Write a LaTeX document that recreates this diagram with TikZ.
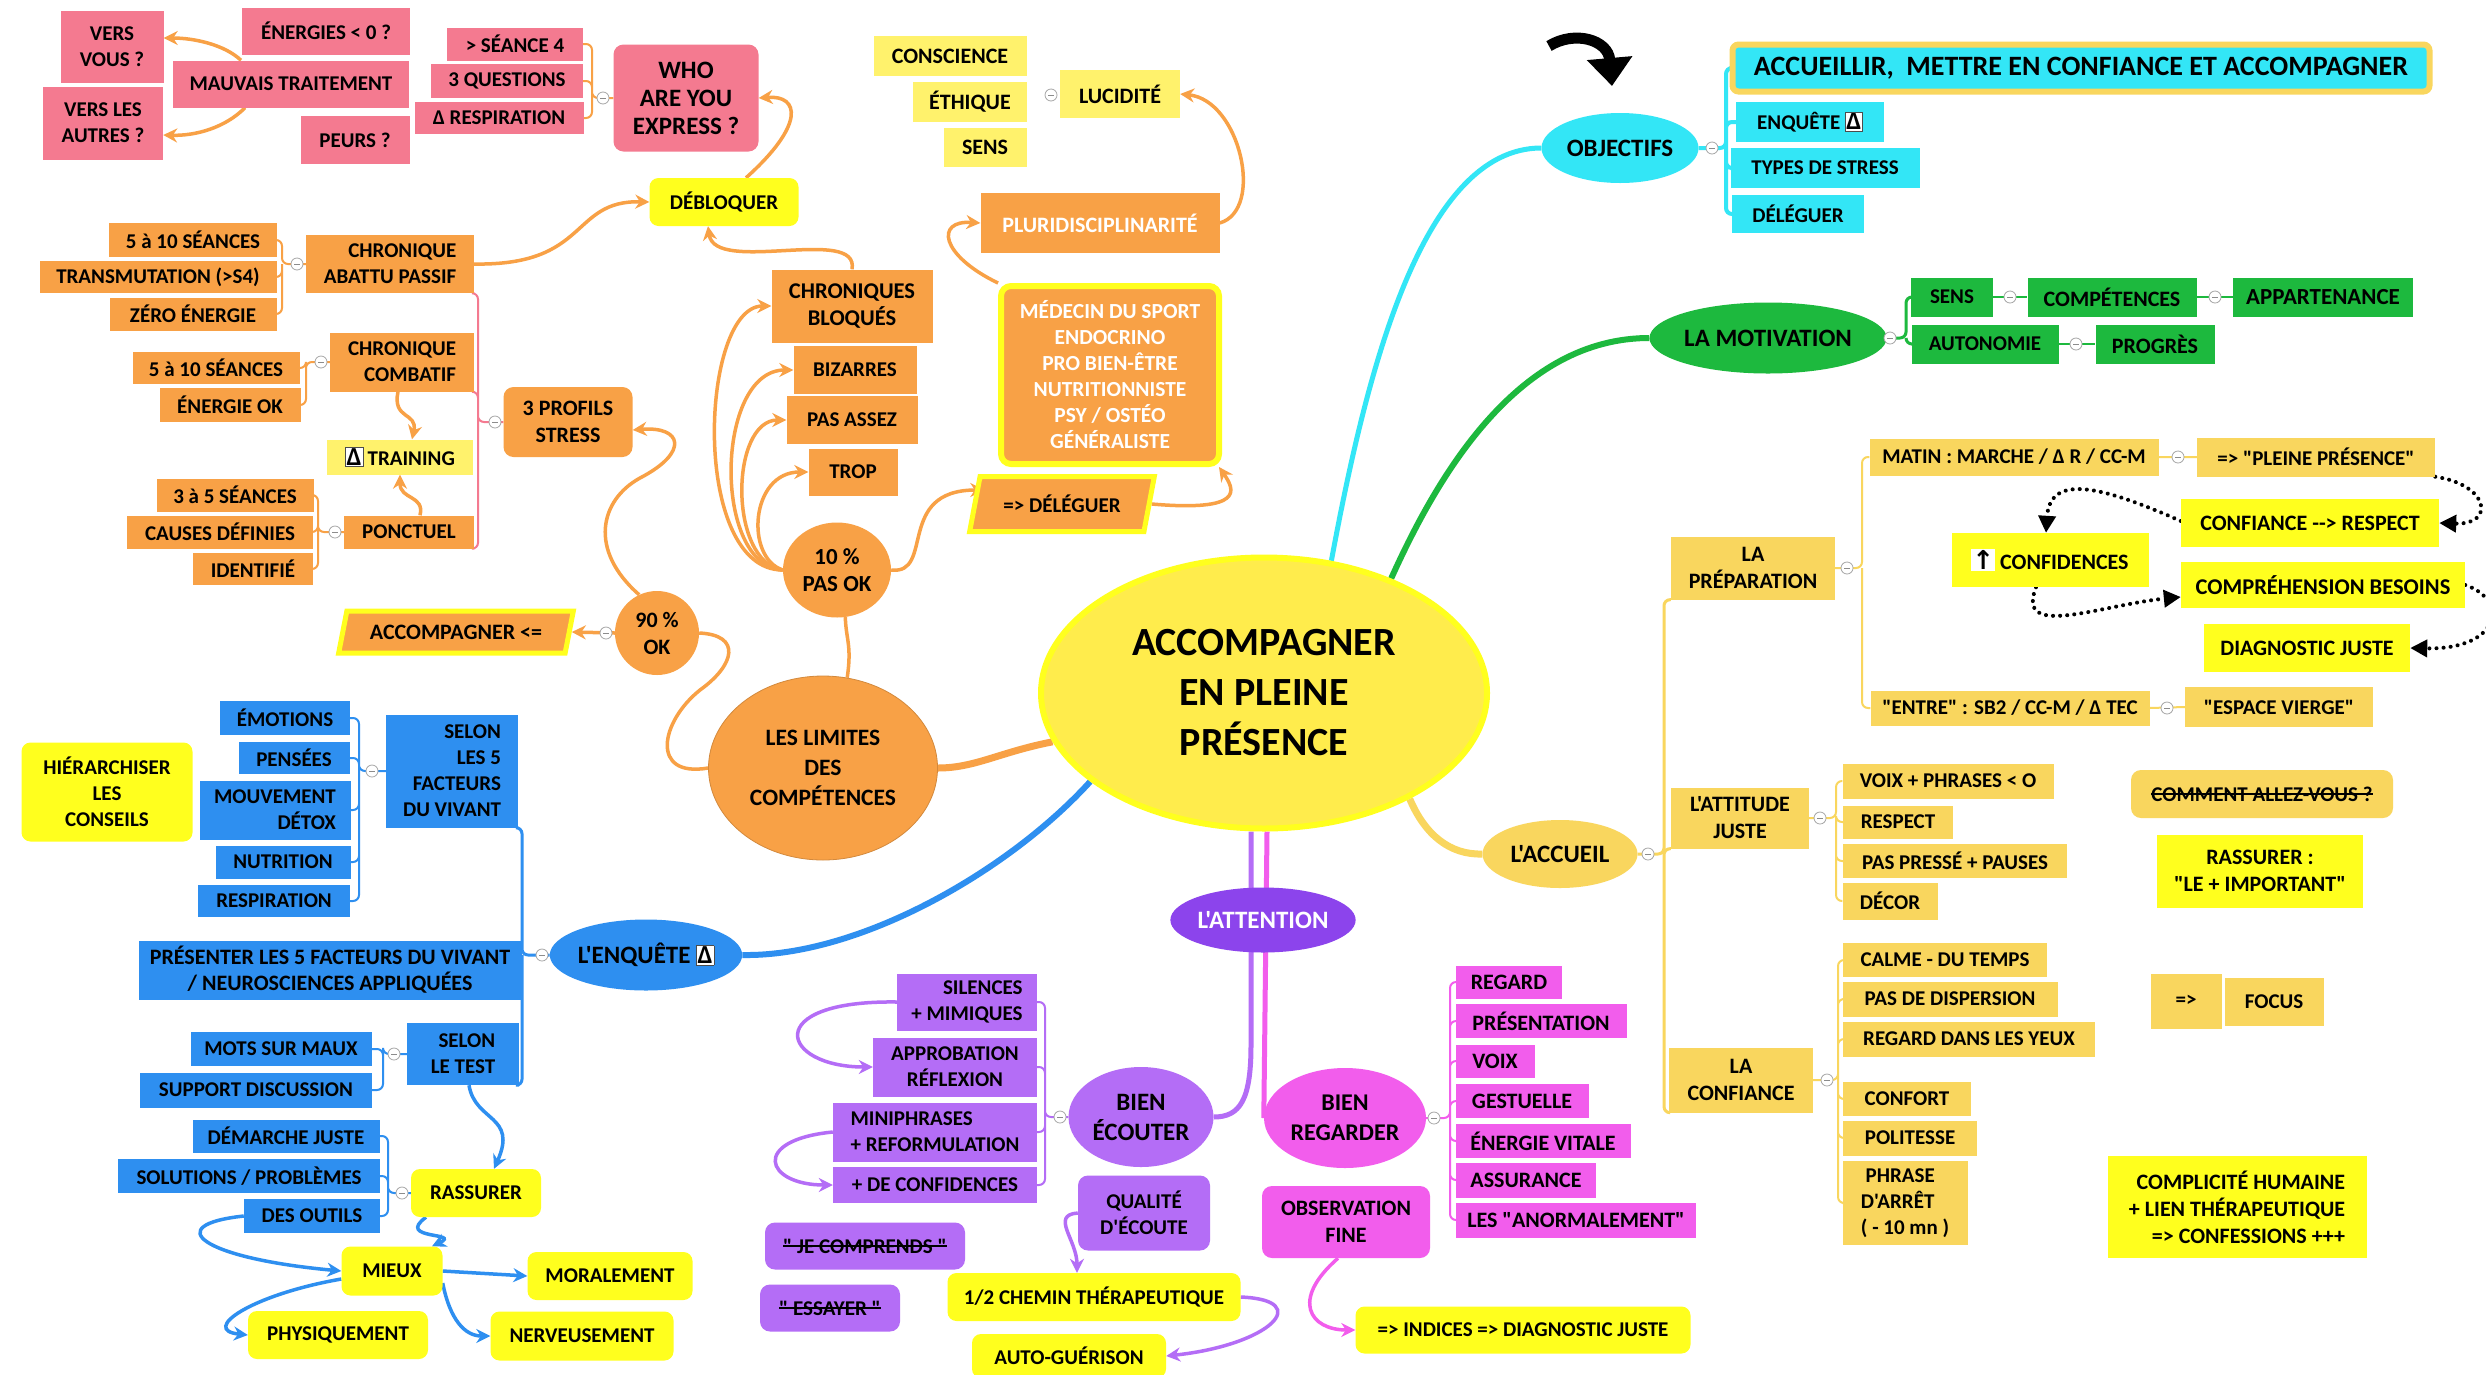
\documentclass[tikz,border=0pt]{standalone}
\usepackage{fontspec}
\setmainfont{Carlito}
\newfontfamily\cfont{Carlito}
\newfontfamily\arrowfont{DejaVu Sans}
\usetikzlibrary{arrows.meta,shapes.geometric}
\definecolor{pinkc}{HTML}{F47A90}
\definecolor{orangec}{HTML}{F8A146}
\definecolor{yelc}{HTML}{FFFF1E}
\definecolor{paleyel}{HTML}{FFF26C}
\definecolor{goldc}{HTML}{F9D65E}
\definecolor{bluec}{HTML}{2E8FF0}
\definecolor{cyanc}{HTML}{33E6F6}
\definecolor{greenc}{HTML}{1DB93E}
\definecolor{purpc}{HTML}{B46DF6}
\definecolor{darkpurp}{HTML}{8C44EC}
\definecolor{magc}{HTML}{F25DEC}
\definecolor{hubc}{HTML}{FFEC4C}
\newcommand{\nf}{\cfont\fontsize{21}{26}\selectfont\bfseries}
\newcommand{\dlt}{{\setlength{\fboxsep}{1pt}\fcolorbox{black!70}{white}{\fontsize{26}{26}\selectfont Δ}}}
\newcommand{\upar}{{\setlength{\fboxsep}{1pt}\colorbox{white}{\fontsize{26}{26}\selectfont\arrowfont\bfseries ↑}}}
\newlength{\strklen}
\newcommand{\strk}[1]{\settowidth{\strklen}{#1}\rlap{\rule[0.3em]{\strklen}{1.4pt}}#1}
\pgfdeclarelayer{bg}
\pgfsetlayers{bg,main}
\tikzset{
  bx/.style={rectangle, inner xsep=4pt, inner ysep=2pt, font=\nf, text=black, align=center},
  sz/.style 2 args={minimum width=#1pt, minimum height=#2pt},
  fs/.style 2 args={font=\cfont\fontsize{#1}{#2}\selectfont\bfseries},
  pk/.style={bx, fill=pinkc},
  org/.style={bx, fill=orangec},
  ybx/.style={bx, fill=yelc, rounded corners=9pt},
  ysq/.style={bx, fill=yelc},
  pyb/.style={bx, fill=paleyel},
  gbx/.style={bx, fill=goldc},
  bbx/.style={bx, fill=bluec},
  cbx/.style={bx, fill=cyanc},
  grb/.style={bx, fill=greenc},
  pbx/.style={bx, fill=purpc},
  mbx/.style={bx, fill=magc, fs={22}{26}},
  ell/.style={ellipse, inner sep=0pt, font=\nf, text=black, align=center},
  para/.style={trapezium, trapezium left angle=70, trapezium right angle=110, trapezium stretches=true, draw=yelc, line width=5pt},
  mn/.style={circle, draw=black!35, fill=white, line width=0.8pt, minimum size=12pt, inner sep=0pt,
    path picture={\draw[black!45, line width=0.8pt] ([xshift=-3pt]path picture bounding box.center) -- ([xshift=3pt]path picture bounding box.center);}},
  brk/.style={line width=2pt, rounded corners=6pt},
  oarr/.style={draw=orangec, line width=3.5pt, -{Stealth[length=14pt,width=14pt]}},
  barr/.style={draw=bluec, line width=3.5pt, -{Stealth[length=14pt,width=14pt]}},
  parr/.style={draw=purpc, line width=3.5pt, -{Stealth[length=14pt,width=14pt]}},
  marr/.style={draw=magc, line width=3.5pt, -{Stealth[length=14pt,width=14pt]}},
  darr/.style={draw=black, line width=4pt, dash pattern=on 0.1pt off 7pt, line cap=round, -{Triangle[length=17pt,width=17pt]}}
}
\begin{document}
\begin{tikzpicture}[x=1pt,y=-1pt]
\useasboundingbox (0,0) rectangle (2486,1374);

\node[pk, sz={103}{72}] (versvous) at (112,47) {VERS\\VOUS ?};
\node[pk, sz={168}{47}] (energies) at (326,31) {ÉNERGIES < 0 ?};
\node[pk, sz={236}{47}] (mauvais) at (291,84) {MAUVAIS TRAITEMENT};
\node[pk, sz={120}{73}] (versautres) at (103,123) {VERS LES\\AUTRES ?};
\node[pk, sz={109}{48}] (peurs) at (355,140) {PEURS ?};
\node[pk, sz={136}{33}] (seance) at (515,44) {> SÉANCE 4};
\node[pk, sz={152}{34}] (questions) at (507,81) {3 QUESTIONS};
\node[pk, sz={169}{32}] (respi) at (499,118) {Δ RESPIRATION};
\node[pk, rounded corners=10pt, sz={145}{107}, fs={25}{28}] (who) at (686,98) {WHO\\ARE YOU\\EXPRESS ?};

\node[org, sz={168}{34}] (sea1) at (193,240) {5 à 10 SÉANCES};
\node[org, sz={237}{32}] (transmut) at (158,277) {TRANSMUTATION (>S4)};
\node[org, sz={167}{33}] (zero) at (193,314) {ZÉRO ÉNERGIE};
\node[org, sz={168}{58}, align=right] (abattu) at (390,264) {CHRONIQUE\\ABATTU PASSIF};
\node[org, sz={144}{59}, align=right] (combatif) at (402,362) {CHRONIQUE\\COMBATIF};
\node[org, sz={167}{32}] (sea2) at (216,368) {5 à 10 SÉANCES};
\node[org, sz={141}{34}] (energok) at (230,405) {ÉNERGIE OK};
\node[org, rounded corners=10pt, sz={129}{70}, fs={22}{27}] (profils) at (568,422) {3 PROFILS\\STRESS};
\node[pyb, sz={146}{35}] (training) at (400,457) {\dlt{} TRAINING};
\node[org, sz={157}{33}] (sea3) at (235,495) {3 à 5 SÉANCES};
\node[org, sz={186}{33}] (causes) at (220,532) {CAUSES DÉFINIES};
\node[org, sz={120}{32}] (identifie) at (253,569) {IDENTIFIÉ};
\node[org, sz={130}{33}] (ponctuel) at (409,532) {PONCTUEL};
\node[org, para, sz={235}{42}, fs={22}{26}] (accomp) at (456,632) {ACCOMPAGNER <=};
\node[org, circle, inner sep=0pt, minimum size=84pt, fs={22}{27}] (ninety) at (657,633) {90 \%\\OK};
\node[ell, fill=orangec, draw=orangec!85!black, line width=0.8pt, sz={229}{184}, fs={23.5}{30}] (limites) at (823,768) {LES LIMITES\\DES\\COMPÉTENCES};
\node[ell, fill=orangec, sz={108}{95}, fs={23}{27}] (ten) at (837,570) {10 \%\\PAS OK};
\node[org, sz={161}{73}, fs={22.5}{27}] (chrbloq) at (852,306) {CHRONIQUES\\BLOQUÉS};
\node[org, sz={123}{48}] (bizarres) at (855,370) {BIZARRES};
\node[org, sz={131}{48}] (pasassez) at (852,420) {PAS ASSEZ};
\node[org, sz={89}{47}] (trop) at (853,472) {TROP};
\node[ybx, sz={149}{48}] (debloquer) at (724,202) {DÉBLOQUER};
\node[pyb, sz={153}{40}, fs={22}{26}] (conscience) at (950,56) {CONSCIENCE};
\node[pyb, sz={114}{40}, fs={22}{26}] (ethique) at (970,102) {ÉTHIQUE};
\node[pyb, sz={83}{39}, fs={22}{26}] (sens) at (985,147) {SENS};
\node[pyb, sz={120}{48}, fs={22}{26}] (lucidite) at (1120,94) {LUCIDITÉ};
\node[org, text=white, sz={239}{60}, fs={22}{26}] (pluri) at (1100,223) {PLURIDISCIPLINARITÉ};
\node[org, text=white, draw=yelc, line width=6pt, rounded corners=10pt, sz={218}{178}, fs={21.5}{26}] (medecin) at (1110,375) {MÉDECIN DU SPORT\\ENDOCRINO\\PRO BIEN-ÊTRE\\NUTRITIONNISTE\\PSY / OSTÉO\\GÉNÉRALISTE};
\node[org, para, sz={185}{55}] (deleguer) at (1062,504) {=> DÉLÉGUER};

\node[ybx, sz={171}{99}] (hierarchiser) at (107,792) {HIÉRARCHISER\\LES\\CONSEILS};
\node[bbx, sz={130}{34}] (emotions) at (285,718) {ÉMOTIONS};
\node[bbx, sz={111}{32}] (pensees) at (294,758) {PENSÉES};
\node[bbx, sz={151}{59}, align=right] (mouvement) at (275,810) {MOUVEMENT\\DÉTOX};
\node[bbx, sz={135}{33}] (nutrition) at (283,862) {NUTRITION};
\node[bbx, sz={152}{32}] (respiration) at (274,901) {RESPIRATION};
\node[bbx, sz={132}{113}, align=right] (facteurs) at (452,771) {SELON\\LES 5\\FACTEURS\\DU VIVANT};
\node[bbx, sz={383}{59}, fs={22}{26}] (presenter) at (330,970) {PRÉSENTER LES 5 FACTEURS DU VIVANT\\/ NEUROSCIENCES APPLIQUÉES};
\node[ell, fill=bluec, sz={182}{71}, fs={25}{30}] (enquete) at (646,955) {L'ENQUÊTE \dlt};
\node[bbx, sz={112}{62}, align=right] (selontest) at (463,1054) {SELON\\LE TEST};
\node[bbx, sz={181}{34}] (mots) at (281,1049) {MOTS SUR MAUX};
\node[bbx, sz={232}{35}] (support) at (256,1090) {SUPPORT DISCUSSION};
\node[bbx, sz={187}{33}] (demarche) at (286,1136) {DÉMARCHE JUSTE};
\node[bbx, sz={262}{34}] (solutions) at (249,1176) {SOLUTIONS / PROBLÈMES};
\node[bbx, sz={136}{34}] (outils) at (312,1216) {DES OUTILS};
\node[ybx, sz={130}{48}] (rassurer) at (476,1193) {RASSURER};
\node[ybx, sz={101}{49}] (mieux) at (392,1271) {MIEUX};
\node[ybx, sz={165}{48}] (moralement) at (610,1276) {MORALEMENT};
\node[ybx, sz={180}{48}] (physiquement) at (338,1335) {PHYSIQUEMENT};
\node[ybx, sz={183}{49}] (nerveusement) at (582,1336) {NERVEUSEMENT};

\node[ell, fill=hubc, draw=yelc, line width=6pt, sz={446}{271}, fs={40}{50}] (hub) at (1264,693) {ACCOMPAGNER\\EN PLEINE\\PRÉSENCE};

\node[ell, fill=cyanc, sz={157}{70}, fs={25}{30}] (objectifs) at (1620,148) {OBJECTIFS};
\node[cbx, draw=goldc, line width=6pt, rounded corners=6pt, sz={697}{47}, fs={28}{32}] (accueillir) at (2081,68) {ACCUEILLIR,\ \ METTRE EN CONFIANCE ET ACCOMPAGNER};
\node[cbx, sz={148}{40}] (enquete2) at (1810,122) {ENQUÊTE \dlt};
\node[cbx, sz={189}{40}] (types) at (1825,168) {TYPES DE STRESS};
\node[cbx, sz={132}{38}] (deleguer2) at (1798,214) {DÉLÉGUER};

\node[ell, fill=greenc, sz={217}{71}, fs={25}{30}] (motivation) at (1768,338) {LA MOTIVATION};
\node[grb, sz={82}{39}] (sens2) at (1952,297) {SENS};
\node[grb, sz={169}{39}, fs={22}{26}] (competences) at (2112,297) {COMPÉTENCES};
\node[grb, sz={180}{39}, fs={23}{26}] (appartenance) at (2323,297) {APPARTENANCE};
\node[grb, sz={147}{39}] (autonomie) at (1985,344) {AUTONOMIE};
\node[grb, sz={119}{39}, fs={22}{26}] (progres) at (2155,344) {PROGRÈS};

\node[ell, fill=goldc, sz={155}{68}, fs={25}{30}] (accueil) at (1560,854) {L'ACCUEIL};
\node[gbx, sz={164}{63}, fs={22}{27}] (preparation) at (1753,568) {LA\\PRÉPARATION};
\node[gbx, sz={289}{37}] (matin) at (2014,457) {MATIN : MARCHE / Δ R / CC-M};
\node[gbx, sz={238}{39}] (pleine) at (2316,457) {=> "PLEINE PRÉSENCE"};
\node[ysq, sz={258}{48}, fs={22}{26}] (confrespect) at (2310,523) {CONFIANCE --> RESPECT};
\node[ysq, sz={197}{54}, fs={22}{26}] (confidences) at (2050,560) {\upar\ CONFIDENCES};
\node[ysq, sz={284}{46}, fs={22.5}{26}] (comprehension) at (2323,585) {COMPRÉHENSION BESOINS};
\node[ysq, sz={206}{48}, fs={22}{26}] (diagnostic) at (2307,648) {DIAGNOSTIC JUSTE};
\node[gbx, sz={279}{35}] (entre) at (2010,708) {"ENTRE" : SB2 / CC-M / Δ TEC};
\node[gbx, sz={188}{40}] (espace) at (2279,707) {"ESPACE VIERGE"};
\node[gbx, sz={138}{61}, fs={22}{27}] (attitude) at (1740,818) {L'ATTITUDE\\JUSTE};
\node[gbx, sz={211}{35}] (voix) at (1948,781) {VOIX + PHRASES < O};
\node[gbx, sz={110}{33}] (respect) at (1898,822) {RESPECT};
\node[gbx, sz={224}{34}] (paspresse) at (1955,861) {PAS PRESSÉ + PAUSES};
\node[gbx, sz={95}{37}] (decor) at (1890,901) {DÉCOR};
\node[gbx, rounded corners=10pt, sz={262}{48}] (comment) at (2262,794) {\strk{COMMENT ALLEZ-VOUS ?}};
\node[ysq, sz={206}{73}, fs={22}{27}] (rassurer2) at (2260,871) {RASSURER :\\"LE + IMPORTANT"};
\node[gbx, sz={144}{65}, fs={22}{27}] (confiance) at (1741,1080) {LA\\CONFIANCE};
\node[gbx, sz={204}{34}] (calme) at (1945,960) {CALME - DU TEMPS};
\node[gbx, sz={215}{35}] (dispersion) at (1950,999) {PAS DE DISPERSION};
\node[gbx, sz={252}{35}] (yeux) at (1969,1039) {REGARD DANS LES YEUX};
\node[gbx, sz={128}{34}] (confort) at (1907,1099) {CONFORT};
\node[gbx, sz={134}{35}] (politesse) at (1910,1138) {POLITESSE};
\node[gbx, sz={125}{84}, align=left] (phrase) at (1905,1203) {\ PHRASE\\D'ARRÊT\\( - 10 mn )};
\node[gbx, sz={71}{55}] (donc) at (2186,1001) {=>};
\node[gbx, sz={99}{48}] (focus) at (2274,1002) {FOCUS};
\node[ysq, sz={259}{102}, align=right, fs={22}{27}] (complicite) at (2237,1207) {COMPLICITÉ HUMAINE\\+ LIEN THÉRAPEUTIQUE\\=> CONFESSIONS +++};

\node[ell, fill=darkpurp, text=white, sz={181}{65}, fs={25}{30}] (attention) at (1263,920) {L'ATTENTION};
\node[ell, fill=purpc, sz={145}{100}, fs={25}{30}] (ecouter) at (1141,1117) {BIEN\\ÉCOUTER};
\node[pbx, sz={140}{57}, align=right] (silences) at (967,1002) {SILENCES\\+ MIMIQUES};
\node[pbx, sz={164}{59}] (approbation) at (955,1067) {APPROBATION\\RÉFLEXION};
\node[pbx, sz={204}{59}, align=left] (miniphrases) at (935,1132) {MINIPHRASES\\+ REFORMULATION};
\node[pbx, sz={204}{36}] (deconfid) at (935,1185) {+ DE CONFIDENCES};
\node[pbx, rounded corners=10pt, sz={132}{75}] (qualite) at (1144,1213) {QUALITÉ\\D'ÉCOUTE};
\node[pbx, rounded corners=10pt, sz={200}{47}] (jecomprends) at (865,1246) {\strk{" JE COMPRENDS "}};
\node[pbx, rounded corners=10pt, sz={140}{47}] (essayer) at (830,1308) {\strk{" ESSAYER "}};
\node[ybx, sz={293}{48}] (chemin) at (1094,1297) {1/2 CHEMIN THÉRAPEUTIQUE};
\node[ybx, sz={194}{44}] (autogue) at (1069,1356) {AUTO-GUÉRISON};

\node[ell, fill=magc, sz={162}{100}, fs={24}{30}] (regarder) at (1345,1118) {BIEN\\REGARDER};
\node[mbx, sz={106}{33}] (regard) at (1509,982) {REGARD};
\node[mbx, sz={171}{34}] (presentation) at (1541,1021) {PRÉSENTATION};
\node[mbx, sz={79}{33}] (voix2) at (1495,1061) {VOIX};
\node[mbx, sz={133}{34}] (gestuelle) at (1522,1101) {GESTUELLE};
\node[mbx, sz={175}{34}] (energie) at (1543,1141) {ÉNERGIE VITALE};
\node[mbx, sz={140}{35}] (assurance) at (1526,1180) {ASSURANCE};
\node[mbx, sz={240}{35}] (anormal) at (1576,1220) {LES "ANORMALEMENT"};
\node[mbx, rounded corners=10pt, sz={168}{72}, fs={22}{27}] (observation) at (1346,1222) {OBSERVATION\\FINE};
\node[ybx, sz={335}{47}] (indices) at (1523,1330) {=> INDICES => DIAGNOSTIC JUSTE};

\node[mn] (m1) at (603,98) {};
\node[mn] (m2) at (297,264) {};
\node[mn] (m3) at (321,362) {};
\node[mn] (m4) at (335,532) {};
\node[mn] (m5) at (495,422) {};
\node[mn] (m6) at (1051,95) {};
\node[mn] (m7) at (606,633) {};
\node[mn] (m8) at (372,771) {};
\node[mn] (m9) at (542,955) {};
\node[mn] (m10) at (394,1054) {};
\node[mn] (m11) at (402,1193) {};
\node[mn] (m12) at (1712,148) {};
\node[mn] (m13) at (1890,338) {};
\node[mn] (m14) at (2010,297) {};
\node[mn] (m15) at (2215,297) {};
\node[mn] (m16) at (2076,344) {};
\node[mn] (m17) at (1648,854) {};
\node[mn] (m18) at (1847,568) {};
\node[mn] (m19) at (2178,457) {};
\node[mn] (m20) at (2167,708) {};
\node[mn] (m21) at (1820,818) {};
\node[mn] (m22) at (1827,1080) {};
\node[mn] (m23) at (1060,1117) {};
\node[mn] (m24) at (1434,1118) {};

\draw[line width=11pt, -{Triangle[length=28pt,width=44pt]}] (1549,46) .. controls (1575,30) and (1608,40) .. (1612,86);

\begin{pgfonlayer}{bg}
\fill[white] (0,0) rectangle (2486,1374);
\draw[orangec, line width=7pt] (hub.193) .. controls (1000,752) and (975,768) .. (limites.east);
\draw[bluec, line width=6pt] (hub.207) .. controls (1010,870) and (860,957) .. (enquete.east);
\draw[cyanc, line width=5pt] (hub.63) .. controls (1365,380) and (1420,148) .. (objectifs.west);
\draw[greenc, line width=6pt] (hub.42) .. controls (1440,470) and (1520,338) .. (motivation.west);
\draw[goldc, line width=7pt] (hub.-36) .. controls (1425,835) and (1450,855) .. (accueil.west);
\draw[purpc, line width=5pt] ([xshift=-13pt]hub.south) -- (1251,1045) .. controls (1251,1100) and (1240,1117) .. (ecouter.east);
\draw[magc, line width=5pt] ([xshift=3pt]hub.south) -- (regarder.west);

\draw[brk, orangec] (who.west) -- (592,98) |- (seance.east) (592,98) |- (questions.east) (592,98) |- (respi.east);
\draw[brk, orangec] (abattu.west) -- (282,264) |- (sea1.east) (282,264) |- (transmut.east) (282,264) |- (zero.east);
\draw[brk, orangec] (combatif.west) -- (306,362) |- (sea2.east) (306,362) |- (energok.east);
\draw[brk, orangec] (ponctuel.west) -- (318,532) |- (sea3.east) (318,532) |- (causes.east) (318,532) |- (identifie.east);
\draw[brk, pinkc] (profils.west) -- (478,422) |- (abattu.south east) (478,422) |- (combatif.south east) (478,422) |- (ponctuel.south east);
\draw[brk, bluec] (facteurs.west) -- (359,771) |- (emotions.east) (359,771) |- (pensees.east) (359,771) |- (mouvement.east) (359,771) |- (nutrition.east) (359,771) |- (respiration.east);
\draw[brk, bluec, line width=3pt] (enquete.west) -- (522,955) |- (facteurs.south east) (522,955) |- (presenter.east) (522,955) |- (selontest.south east);
\draw[brk, bluec] (selontest.west) -- (383,1054) |- (mots.east) (383,1054) |- (support.east);
\draw[brk, bluec] (rassurer.west) -- (388,1193) |- (demarche.east) (388,1193) |- (solutions.east) (388,1193) |- (outils.east);
\draw[brk, cyanc, line width=4pt] (objectifs.east) -- (1726,148) |- (accueillir.west) (1726,148) |- (enquete2.west) (1726,148) |- (types.west) (1726,148) |- (deleguer2.west);
\draw[brk, greenc, line width=3pt] (motivation.east) -- (1906,338) |- (sens2.west) (1906,338) |- (autonomie.west);
\draw[brk, greenc] (sens2.east) -- (competences.west) (competences.east) -- (appartenance.west) (autonomie.east) -- (progres.west);
\draw[brk, goldc, line width=3pt] (accueil.east) -- (1664,854) |- (preparation.south west) (1664,854) |- (attitude.south west) (1664,854) |- (confiance.south west);
\draw[brk, goldc] (preparation.east) -- (1862,568) |- (matin.west) (1862,568) |- (entre.west);
\draw[brk, goldc] (matin.east) -- (pleine.west) (entre.east) -- (espace.west);
\draw[brk, goldc] (attitude.east) -- (1836,818) |- (voix.west) (1836,818) |- (respect.west) (1836,818) |- (paspresse.west) (1836,818) |- (decor.west);
\draw[brk, goldc] (confiance.east) -- (1838,1080) |- (calme.west) (1838,1080) |- (dispersion.west) (1838,1080) |- (yeux.west) (1838,1080) |- (confort.west) (1838,1080) |- (politesse.west) (1838,1080) |- (phrase.west);
\draw[brk, purpc] (ecouter.west) -- (1045,1117) |- (silences.east) (1045,1117) |- (approbation.east) (1045,1117) |- (miniphrases.east) (1045,1117) |- (deconfid.east);
\draw[brk, magc] (regarder.east) -- (1450,1118) |- (regard.west) (1450,1118) |- (presentation.west) (1450,1118) |- (voix2.west) (1450,1118) |- (gestuelle.west) (1450,1118) |- (energie.west) (1450,1118) |- (assurance.west) (1450,1118) |- (anormal.west);

\draw[oarr] ([xshift=-50pt]mauvais.north) .. controls (225,45) and (195,38) .. ([yshift=9pt]versvous.east);
\draw[oarr] ([xshift=-46pt]mauvais.south) .. controls (225,128) and (195,136) .. ([yshift=-12pt]versautres.east);
\draw[oarr] (abattu.east) .. controls (590,266) and (570,200) .. (debloquer.west);
\draw[oarr] (chrbloq.north) .. controls (860,225) and (715,275) .. ([xshift=-16pt]debloquer.south);
\draw[oarr] ([xshift=22pt]debloquer.north) .. controls (805,125) and (800,95) .. (who.east);
\draw[oarr] (ten.west) .. controls (690,570) and (700,306) .. (chrbloq.west);
\draw[oarr] (ten.west) .. controls (712,566) and (715,370) .. (bizarres.west);
\draw[oarr] (ten.west) .. controls (728,562) and (730,420) .. (pasassez.west);
\draw[oarr] (ten.west) .. controls (745,558) and (750,472) .. (trop.west);
\draw[oarr] (ten.east) .. controls (935,575) and (895,490) .. ([xshift=12pt,yshift=14pt]deleguer.west);
\draw[oarr] (deleguer.east) .. controls (1245,512) and (1235,490) .. ([xshift=-3pt]medecin.south east);
\draw[oarr] (medecin.north west) .. controls (940,255) and (935,220) .. (pluri.west);
\draw[oarr] (pluri.east) .. controls (1265,210) and (1240,100) .. (lucidite.east);
\draw[orangec, line width=3.5pt] (limites.75) .. controls (852,645) and (846,640) .. (ten.280);
\draw[orangec, line width=3.5pt] (limites.west) .. controls (650,778) and (660,722) .. (700,690) .. controls (735,665) and (742,635) .. (ninety.east);
\draw[oarr] (ninety.115) .. controls (588,550) and (600,500) .. (640,478) .. controls (690,452) and (682,426) .. ([yshift=-8pt]profils.east);
\draw[oarr] (ninety.west) -- (accomp.east);
\draw[oarr] ([xshift=-4pt]combatif.south) .. controls (392,420) and (418,412) .. ([xshift=12pt]training.north);
\draw[oarr] ([xshift=11pt]ponctuel.north) .. controls (425,495) and (400,500) .. (training.south);

\draw[barr] ([xshift=6pt]selontest.south) .. controls (475,1122) and (518,1115) .. ([xshift=18pt]rassurer.north);
\draw[barr] (outils.west) .. controls (160,1225) and (200,1258) .. (mieux.west);
\draw[barr] ([xshift=-50pt]rassurer.south) .. controls (395,1240) and (462,1232) .. ([xshift=40pt]mieux.north);
\draw[barr] (mieux.east) -- (moralement.west);
\draw[barr] ([yshift=-8pt]mieux.west) .. controls (250,1295) and (200,1330) .. (physiquement.west);
\draw[barr] ([yshift=-12pt]mieux.east) .. controls (450,1320) and (465,1336) .. (nerveusement.west);

\draw[parr] (silences.west) .. controls (760,1000) and (780,1067) .. (approbation.west);
\draw[parr] (miniphrases.west) .. controls (750,1140) and (765,1185) .. (deconfid.west);
\draw[parr] (qualite.west) .. controls (1050,1215) and (1077,1240) .. ([xshift=-17pt]chemin.north);
\draw[parr] (chemin.east) .. controls (1315,1300) and (1270,1345) .. (autogue.east);
\draw[marr] ([xshift=-8pt]observation.south) .. controls (1290,1300) and (1310,1330) .. (indices.west);

\draw[darr] (pleine.south east) .. controls (2490,485) and (2495,525) .. (confrespect.east);
\draw[darr] ([yshift=2pt]confrespect.west) .. controls (2110,490) and (2050,470) .. ([xshift=-4pt]confidences.north);
\draw[darr] ([xshift=-14pt]confidences.south) .. controls (2015,640) and (2100,605) .. ([yshift=-12pt]comprehension.west);
\draw[darr] (comprehension.east) .. controls (2510,600) and (2500,650) .. (diagnostic.east);
\end{pgfonlayer}
\end{tikzpicture}
\end{document}
